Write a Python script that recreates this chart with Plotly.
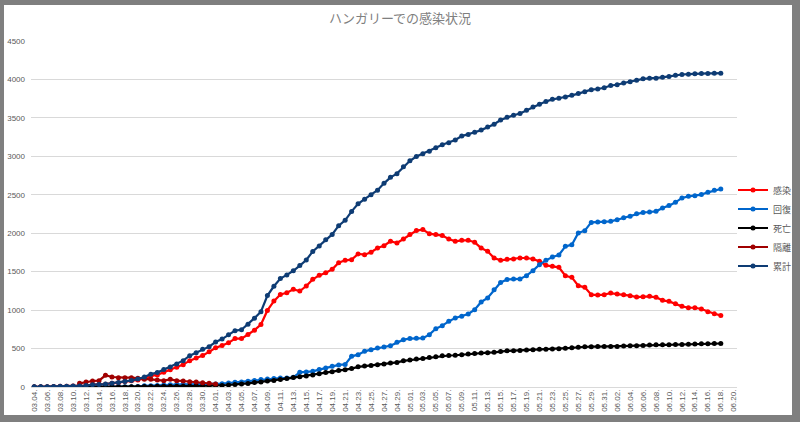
import plotly.graph_objects as go
import pandas as pd

# ---- data -------------------------------------------------------------
dates = [d.strftime("%m.%d.") for d in pd.date_range("2020-03-04", "2020-06-20")]

active = [2, 4, 4, 7, 9, 9, 13, 13, 19, 30, 30, 37, 48, 55, 70, 80, 92, 109, 144, 157, 191, 223, 256,
          291, 343, 378, 409, 457, 509, 539, 574, 630, 630, 683, 739, 813, 996, 1117, 1204, 1226, 1270,
          1248, 1313, 1400, 1452, 1487, 1530, 1617,
          1648, 1656, 1730, 1721, 1752, 1808, 1838, 1895, 1873, 1925, 1982, 2034, 2047, 1994, 1982, 1969,
          1925, 1895, 1908, 1908, 1882, 1808, 1765, 1678, 1648, 1660,
          1665, 1678, 1678, 1665, 1634, 1582, 1569, 1556, 1447, 1426, 1318, 1296, 1201, 1196, 1201, 1222, 1209,
          1201, 1188, 1170, 1174, 1179, 1166, 1127, 1114, 1083, 1049, 1031, 1031, 1014, 979, 953, 931]

recovered = [0, 0, 0, 0, 0, 0, 0, 0, 0, 0,
             1, 1, 1, 2, 2, 2, 7, 16, 16, 21, 25, 28, 34, 34, 34, 34, 37, 37,
             39, 43, 52, 61, 65, 74, 83, 96, 104, 109, 117, 117, 126, 191, 196, 204, 226, 248, 270, 287,
             293, 399, 421, 464, 486, 507, 520, 538, 581, 616, 630, 633, 636, 681, 759, 798, 854, 898, 919,
             950, 1006, 1106, 1158, 1266, 1360, 1398,
             1404, 1406, 1448, 1513, 1591, 1647, 1690, 1717, 1829, 1851, 2003, 2033, 2141, 2146, 2148, 2155, 2176,
             2200, 2220, 2254, 2271, 2276, 2285, 2328, 2359, 2402, 2459, 2480, 2488, 2502, 2532, 2558, 2575]

deaths = [0, 0, 0, 0, 0, 0, 0, 0, 0, 0,
          1, 1, 1, 1, 1, 3, 4, 6, 7, 9, 10, 10, 10,
          11, 13, 15, 15, 16, 20, 21, 26, 34, 38, 47, 58, 66, 77, 85, 99, 109, 122,
          134, 142, 156, 172, 189, 199, 213, 225, 239, 262, 272, 280, 291, 300, 312, 320, 340, 351, 363, 370,
          383, 392, 405, 410, 413, 421, 430, 436, 442, 447, 451, 462, 470, 473, 476, 482, 484, 491, 491, 495,
          499, 505, 509, 517, 524, 525, 526, 526, 527, 527, 534, 535, 537, 539, 545, 548, 550, 551, 553, 553,
          556, 559, 561, 563, 565, 566]

quarantine = [None, None, None, None, None, None, None,
              48, 65, 78, 82, 152, 130, 121, 121, 121, 113, 100, 100, 91, 82, 100, 82, 78, 69, 65, 56, 48, 39]

total = [2, 4, 4, 7, 9, 9, 13, 13, 19, 30, 32, 39, 50, 58, 73, 85, 103, 131, 167, 187, 226, 261, 300,
         343, 408, 447, 492, 525, 585, 623, 678, 733, 744, 817, 895, 980, 1190, 1310, 1410, 1458, 1512,
         1579, 1652, 1763, 1834, 1916, 1984, 2098,
         2168, 2284, 2383, 2443, 2500, 2559, 2649, 2727, 2775, 2863, 2942, 2998, 3035, 3065, 3111, 3150,
         3178, 3213, 3263, 3284, 3313, 3341, 3380, 3417, 3473, 3509,
         3535, 3556, 3598, 3641, 3678, 3713, 3741, 3756, 3771, 3793, 3816, 3841, 3867, 3876, 3892, 3921, 3931,
         3954, 3970, 3990, 4008, 4014, 4017, 4027, 4039, 4053, 4064, 4069, 4075, 4077, 4078, 4079, 4081]

series_names = ["感染", "回復", "死亡", "隔離", "累計"]
series_colors = ["#FF0000", "#0066CC", "#000000", "#A00000", "#0E3C74"]
series_values = [active, recovered, deaths, quarantine, total]

title_text = "ハンガリーでの感染状況"

# ---- figure -----------------------------------------------------------
W, H = 800, 422
ML, MR, MT, MB = 31, 63, 41, 35
pw, ph = W - ML - MR, H - MT - MB

fig = go.Figure()
for name, color, vals in zip(series_names, series_colors, series_values):
    fig.add_trace(go.Scatter(
        x=dates[:len(vals)], y=vals, name=name, mode="lines+markers",
        line=dict(color=color, width=2.2),
        marker=dict(color=color, size=5, line=dict(width=0)),
    ))

# white chart card on gray frame
def px2x(p):
    return (p - ML) / pw

def py2y(p):
    return (H - MB - p) / ph

fig.add_shape(type="rect", xref="paper", yref="paper",
              x0=px2x(4), x1=px2x(792), y0=py2y(415), y1=py2y(5),
              fillcolor="white", line=dict(width=0), layer="below")

fig.update_layout(
    width=W, height=H,
    margin=dict(l=ML, r=MR, t=MT, b=MB, autoexpand=False),
    paper_bgcolor="#7F7F7F",
    plot_bgcolor="rgba(0,0,0,0)",
    font=dict(family="Noto Sans CJK JP, sans-serif", color="#595959"),
    title=dict(text=title_text, x=0.5, xref="container", xanchor="center",
               y=1 - 18 / H, yref="container", yanchor="middle",
               font=dict(size=13, color="#7F7F7F", family="Noto Sans CJK JP, sans-serif")),
    showlegend=True,
    legend=dict(x=px2x(733), xanchor="left", y=py2y(228), yanchor="middle",
                bgcolor="rgba(0,0,0,0)", font=dict(size=9, color="#595959"),
                itemwidth=30),
    xaxis=dict(type="category", categoryorder="array", categoryarray=dates,
               range=[-0.5, len(dates) - 0.5], tickmode="array",
               tickvals=dates[::2], ticktext=dates[::2], tickangle=-90,
               tickfont=dict(size=8, color="#595959", family="Liberation Sans, sans-serif"),
               showgrid=False, showline=False, zeroline=False, ticks="", automargin=False),
    yaxis=dict(range=[0, 4500], dtick=500, tick0=0,
               showgrid=True, gridcolor="#D9D9D9", gridwidth=1,
               zeroline=True, zerolinecolor="#D9D9D9", zerolinewidth=1,
               showline=False, ticks="", ticklabelstandoff=5, automargin=False,
               tickfont=dict(size=8, color="#595959", family="Liberation Sans, sans-serif")),
)

fig.write_html("out.html",
               config={"displayModeBar": False},
               post_script="document.body.style.margin='0px';document.body.style.overflow='hidden';")
